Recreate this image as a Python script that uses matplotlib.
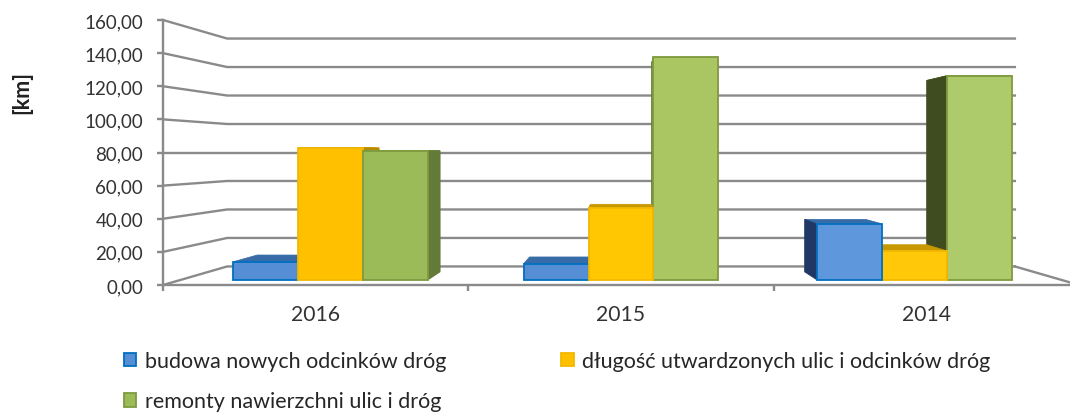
import matplotlib
matplotlib.use("Agg")
import matplotlib.pyplot as plt
from matplotlib.patches import Polygon, Patch

years = ["2016", "2015", "2014"]
series_names = ["budowa nowych odcinków dróg",
                "długość utwardzonych ulic i odcinków dróg",
                "remonty nawierzchni ulic i dróg"]
budowa = [11.3, 10.0, 35.2]
dlugosc = [83.0, 45.3, 18.2]
remonty = [81.1, 140.0, 128.3]
y_ticks = [0, 20, 40, 60, 80, 100, 120, 140, 160]

# colours per year: (front, top, side)
blue_c = [("#558ED5", "#376CA8", "#2A5080"), ("#558ED5", "#376CA8", "#2A5080"), ("#5F97DD", "#376CA8", "#203864")]
yellow_c = [("#FFC000", "#CC9A00", "#B88A00"), ("#FFC602", "#C89800", "#B88A00"), ("#FFC90A", "#C89800", "#B88A00")]
green_c = [("#9BBB59", "#7F9A3F", "#637A38"), ("#A9C663", "#8DA84C", "#5E7532"), ("#AECB6B", "#8DA84C", "#3F4C20")]
edge_c = ["#0070C0", "#F2B800", "#7F9A3F"]
group_shift = [0.01, 0.0, 0.0]

plt.rcParams["font.family"] = ["Lato", "DejaVu Sans"]
W, H = 1070, 414
fig = plt.figure(figsize=(W / 100, H / 100), dpi=100)
L, R, T, B = 163, 1079, 21, 286
ax = fig.add_axes([L / W, 1 - B / H, (R - L) / W, (B - T) / H])
ax.set_xlim(0, 3)
ax.set_ylim(0, 160)

VX, VY = 1.5, 80.0
WALL, BF, BB = 0.14, 0.04, 0.099
GRID = "#8A8A8A"
LW = 1.7


def proj(x, v, d):
    return (x + d * (VX - x), v + d * (VY - v))


# walls
for v in y_ticks:
    a, b, c = proj(0, v, 0), proj(0, v, WALL), proj(3, v, WALL)
    ax.plot([a[0], b[0], c[0]], [a[1], b[1], c[1]], color=GRID, lw=LW, zorder=1, clip_on=False)
a, b = proj(3, 0, WALL), proj(3, 0, 0)
ax.plot([a[0], b[0]], [a[1], b[1]], color=GRID, lw=LW, zorder=1, clip_on=False)

# bars
BAR_W = 0.2217
bars = []
for i in range(3):
    for k, (vals, cols) in enumerate(zip((budowa, dlugosc, remonty), (blue_c, yellow_c, green_c))):
        x0 = i + 0.5 + group_shift[i] - 1.5 * BAR_W + k * BAR_W
        bars.append((x0, x0 + BAR_W, vals[i], cols[i], edge_c[k]))
bars.sort(key=lambda b: -abs((b[0] + b[1]) / 2 - VX))

for z, (x0, x1, v, (cf, ct, cs), ec) in enumerate(bars):
    zb = 3 + z * 0.01
    top = [proj(x0, v, BF), proj(x1, v, BF), proj(x1, v, BB), proj(x0, v, BB)]
    ax.add_patch(Polygon(top, closed=True, fc=ct, ec=ct, lw=0.5, zorder=zb))
    sx = None
    if x1 < VX:
        sx = x1
    elif x0 > VX:
        sx = x0
    if sx is not None:
        side = [proj(sx, 0, BF), proj(sx, v, BF), proj(sx, v, BB), proj(sx, 0, BB)]
        ax.add_patch(Polygon(side, closed=True, fc=cs, ec=cs, lw=0.5, zorder=zb))
    front = [proj(x0, 0, BF), proj(x1, 0, BF), proj(x1, v, BF), proj(x0, v, BF)]
    ax.add_patch(Polygon(front, closed=True, fc=cf, ec=ec, lw=1.3, joinstyle="miter", zorder=zb + 0.005))

# axes
for s in ("top", "right"):
    ax.spines[s].set_visible(False)
for s in ("left", "bottom"):
    ax.spines[s].set_color(GRID)
    ax.spines[s].set_linewidth(LW)
ax.patch.set_alpha(0)
ax.set_yticks(y_ticks)
ax.set_yticklabels([f"{v:.2f}".replace(".", ",") for v in y_ticks])
ax.set_xticks([0, 1, 2, 3])
ax.set_xticks([0.5, 1.5, 2.5], labels=years, minor=True)
ax.set_xticklabels([])
ax.tick_params(axis="y", length=4.3, width=LW, color=GRID, labelsize=13.5, labelcolor="#333333", pad=10)
ax.tick_params(axis="x", which="major", length=4, width=LW, color=GRID)
ax.tick_params(axis="x", which="minor", length=0, labelsize=15.2, labelcolor="#333333", pad=13.5)

fig.text(22 / W, 1 - 93 / H, "[km]", rotation=90, fontsize=15.5, fontweight="bold",
         ha="center", va="center", color="#222222")

# legend
order = [0, 2, 1]
handles = [Patch(fc=[blue_c, yellow_c, green_c][k][0][0], ec=edge_c[k], lw=1.3, label=series_names[k]) for k in order]
fig.legend(handles=handles, ncol=2, frameon=False, fontsize=15.5, labelcolor="#262626",
           loc="upper left", bbox_to_anchor=(124 / W, 1 - 352 / H), bbox_transform=fig.transFigure,
           borderaxespad=0, borderpad=0, handlelength=0.58, handleheight=0.58, handletextpad=0.38,
           columnspacing=5.35, labelspacing=0.95)

fig.savefig("out.png", dpi=100)
